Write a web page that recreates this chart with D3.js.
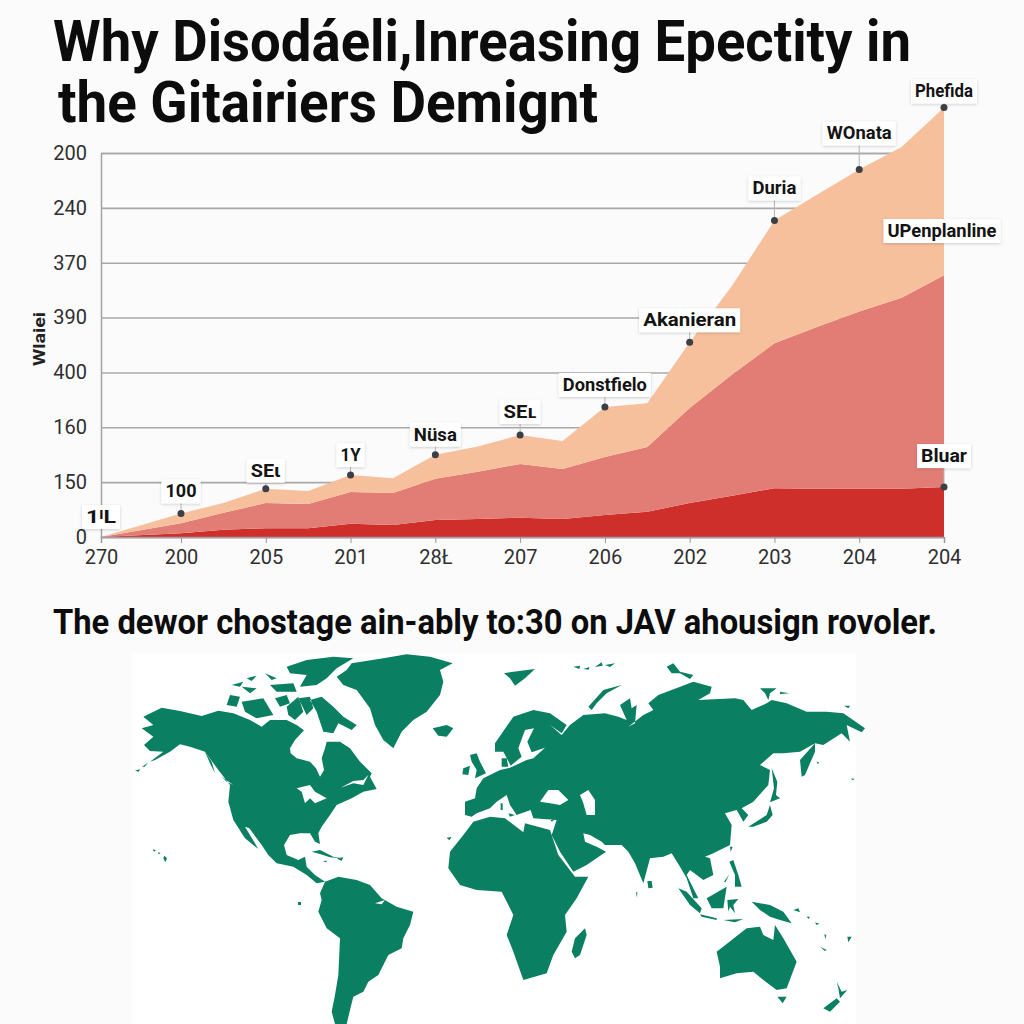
<!DOCTYPE html>
<html>
<head>
<meta charset="utf-8">
<script src="https://cdn.jsdelivr.net/npm/d3@7"></script>
<style>
	html, body { margin: 0; padding: 0; background: #fbfbfb; }
	svg { display: block; }
	text { font-family: Roboto, sans-serif; }
</style>
</head>
<body>
<script>
// x categories and y tick labels, exactly as printed
var xLabels = ["270", "200", "205", "201", "28\u0141", "207", "206", "202", "203", "204", "204"];
var yLabels = ["0", "150", "160", "400", "390", "370", "240", "200"];
var yTicks = [0, 100, 200, 300, 400, 500, 600, 700];

// sample positions along the x axis (index of category, half steps between)
var steps = [0, 1, 1.5, 2, 2.5, 3, 3.5, 4, 4.5, 5, 5.5, 6, 6.5, 7, 7.5, 8, 8.5, 9, 9.5, 10];

// stacked bands, bottom to top
var redBand = [0, 7, 13, 16, 16, 24, 22, 31, 33, 35, 33, 40, 46, 62, 75, 89, 88, 88, 88, 91];
var pinkBand = [0, 18, 31, 46, 44, 58, 58, 75, 86, 98, 91, 106, 118, 173, 221, 264, 295, 323, 348, 386];
var peachBand = [0, 18, 18, 26, 24, 31, 27, 44, 46, 53, 51, 91, 80, 120, 162, 224, 241, 259, 275, 306];

// callouts on the chart
var calloutNames = ["100", "SE\u03b9", "1Y", "N\u00fcsa", "SE\u029f", "Donstfielo", "Akanieran", "Duria", "WOnata", "Phefida", "Bluar"];
var calloutSteps = [1, 2, 3, 4, 5, 6, 7, 8, 9, 10, 10];
var calloutBands = ["peach", "peach", "peach", "peach", "peach", "peach", "peach", "peach", "peach", "peach", "red"];

// map outlines, traced in map units; west and east sheets of the map
var westLand = [
	// north america, hudson bay is a bay, lakes and st lawrence are holes
	[[[40,215],[95,188],[150,198],[215,213],[265,197],[310,205],[360,225],[395,245],[420,225],[470,225],[500,240],[522,256],[495,285],[480,310],[482,325],[500,340],[540,350],[558,370],[570,395],[582,375],[575,340],[585,310],[590,290],[630,290],[660,310],[690,350],[725,385],[720,395],[740,432],[700,440],[665,460],[620,480],[600,510],[575,545],[565,565],[570,597],[555,590],[540,565],[510,565],[480,570],[462,600],[470,630],[505,645],[525,635],[530,665],[555,690],[585,710],[560,715],[530,690],[490,665],[440,655],[415,630],[395,600],[358,550],[345,545],[385,612],[345,580],[310,525],[295,470],[300,420],[265,375],[225,320],[180,305],[150,298],[120,320],[75,345],[60,350],[100,320],[60,318],[42,300],[70,275],[35,250],[70,240],[40,215]],
	 [[500,430],[540,420],[555,440],[590,460],[555,475],[540,460],[525,475],[515,440],[500,430]],
	 [[632,428],[670,408],[700,405],[715,390],[700,420],[670,415],[632,428]],
	 [[225,320],[245,350],[255,385],[240,355],[225,320]],
	 [[275,395],[310,420],[290,410],[275,395]]],
	// south america
	[[[585,710],[625,695],[680,705],[720,720],[755,760],[800,785],[850,800],[840,840],[820,880],[815,910],[775,930],[745,990],[715,1010],[700,1040],[670,1055],[660,1095],[650,1137],[615,1137],[605,1100],[615,1050],[625,990],[630,880],[590,850],[565,800],[575,765],[570,745],[585,710]],
	 [[735,775],[765,765],[755,778],[735,775]]],
	// greenland, iceland
	[[[620,95],[650,75],[665,55],[760,40],[830,28],[900,35],[968,55],[930,75],[940,110],[930,150],[890,200],[850,225],[815,260],[790,310],[760,285],[735,240],[720,190],[680,135],[640,120],[620,95]]],
	[[[908,250],[950,240],[970,250],[950,275],[925,272],[908,250]]],
	// arctic islands
	[[[540,165],[575,155],[610,185],[640,215],[680,240],[665,255],[625,235],[610,265],[580,260],[560,200],[540,165]]],
	[[[335,170],[400,160],[430,210],[380,220],[345,200],[335,170]]],
	[[[300,150],[330,155],[320,185],[290,180],[300,150]]],
	[[[470,65],[530,45],[610,35],[670,40],[620,70],[590,100],[560,120],[510,125],[530,90],[480,85],[470,65]]],
	[[[305,120],[340,110],[330,125],[305,120]]],
	[[[350,100],[380,92],[365,108],[350,100]]],
	[[[335,125],[380,130],[360,145],[335,125]]],
	[[[405,85],[440,100],[425,105],[405,85]]],
	[[[420,120],[490,115],[500,140],[440,140],[420,120]]],
	[[[435,160],[470,150],[480,175],[450,185],[435,160]]],
	[[[470,185],[505,155],[520,200],[495,225],[475,210],[470,185]]],
	[[[505,160],[540,155],[550,190],[530,210],[505,160]]],
	// britain, ireland
	[[[1020,330],[1040,325],[1050,350],[1068,385],[1035,400],[1040,375],[1025,350],[1020,330]]],
	[[[1000,370],[1020,362],[1015,390],[997,388],[1000,370]]],
	// cuba, hispaniola, hawaii, galapagos, small chains
	[[[545,620],[570,615],[610,635],[635,640],[600,637],[570,627],[545,620]]],
	[[[578,648],[592,647],[588,652],[578,648]]],
	[[[620,640],[640,637],[635,648],[620,640]]],
	[[[103,632],[111,640],[106,652],[100,640],[103,632]]],
	[[[504,771],[513,771],[513,780],[504,780],[504,771]]],
	[[[15,377],[30,372],[26,380],[15,377]]],
	[[[36,366],[55,352],[44,365],[36,366]]],
	[[[68,613],[78,616],[72,620],[68,613]]],
	[[[84,622],[92,624],[86,628],[84,622]]],
	[[[950,578],[965,576],[958,586],[950,578]]]
];

var eastLand = [
	// eurasia, with black sea and caspian as holes
	[[[-75,510],[-75,470],[-45,460],[-40,430],[-20,400],[30,375],[60,368],[110,345],[130,340],[165,308],[125,322],[112,290],[132,250],[105,255],[85,310],[95,335],[62,362],[40,320],[15,320],[15,295],[70,215],[130,195],[180,205],[230,240],[215,265],[180,240],[215,270],[240,240],[280,210],[345,205],[385,215],[410,225],[390,180],[420,160],[425,190],[440,180],[435,235],[415,245],[460,210],[490,195],[475,175],[505,150],[610,110],[665,125],[660,145],[625,165],[735,160],[760,165],[785,195],[830,175],[845,165],[890,175],[950,200],[1010,200],[1060,205],[1125,250],[1115,262],[1070,240],[1080,290],[1055,265],[1000,300],[975,295],[930,320],[880,325],[850,325],[810,360],[840,375],[835,420],[790,470],[755,490],[775,510],[760,530],[740,495],[705,505],[725,540],[720,600],[670,625],[645,635],[660,640],[670,690],[640,705],[600,675],[590,690],[625,760],[610,760],[590,700],[570,665],[545,625],[520,635],[480,640],[460,715],[435,655],[415,620],[395,600],[345,600],[335,590],[300,570],[280,565],[285,590],[320,605],[348,620],[290,660],[250,680],[210,620],[185,570],[200,525],[130,520],[122,495],[80,510],[60,480],[50,450],[20,470],[0,490],[-40,505],[-55,515],[-75,510]],
	 [[150,470],[175,435],[205,435],[235,465],[210,480],[180,475],[150,470]],
	 [[270,450],[295,435],[315,465],[315,510],[290,510],[280,475],[270,450]]],
	// africa
	[[[0,515],[45,520],[100,562],[105,535],[180,555],[185,570],[205,630],[255,695],[295,695],[260,760],[225,810],[230,860],[190,930],[170,985],[100,1005],[70,920],[50,870],[70,810],[35,740],[-40,735],[-90,720],[-125,670],[-120,620],[-80,570],[-50,530],[0,515]]],
	// arctic
	[[[295,185],[340,135],[395,120],[350,145],[320,175],[305,195],[295,185]]],
	[[[42,85],[70,80],[135,72],[105,100],[75,122],[60,100],[42,85]]],
	[[[250,65],[270,62],[268,72],[250,65]]],
	[[[280,72],[298,66],[296,74],[280,72]]],
	[[[315,66],[335,52],[338,62],[315,66]]],
	[[[345,60],[375,55],[360,66],[345,60]]],
	[[[530,65],[550,55],[570,80],[610,90],[600,102],[570,85],[545,85],[530,65]]],
	[[[810,130],[860,130],[840,145],[835,165],[825,145],[810,130]]],
	[[[870,140],[898,145],[870,147],[870,140]]],
	[[[1062,182],[1080,182],[1075,190],[1062,182]]],
	// denmark, mediterranean islands
	[[[35,340],[50,340],[55,365],[35,365],[35,340]]],
	[[[32,475],[38,475],[38,495],[32,495],[32,475]]],
	[[[55,505],[75,510],[60,515],[55,505]]],
	[[[180,522],[192,525],[185,530],[180,522]]],
	// far east
	[[[930,345],[975,295],[975,320],[945,390],[935,395],[930,345]]],
	[[[845,370],[862,410],[858,450],[870,460],[840,472],[852,430],[845,370]]],
	[[[775,545],[830,510],[840,480],[848,510],[830,530],[790,545],[775,545]]],
	[[[720,605],[728,605],[722,620],[720,605]]],
	[[[718,650],[730,645],[745,690],[755,725],[735,725],[735,690],[718,650]]],
	[[[702,710],[718,688],[706,712],[702,710]]],
	// indonesia and new guinea
	[[[650,760],[710,725],[700,790],[665,790],[650,760]]],
	[[[565,730],[590,740],[635,790],[630,805],[600,780],[565,730]]],
	[[[630,808],[680,820],[680,825],[635,815],[630,808]]],
	[[[712,765],[745,762],[730,780],[735,805],[720,785],[715,800],[712,765]]],
	[[[785,770],[840,780],[880,800],[905,835],[870,825],[840,815],[810,795],[785,770]]],
	[[[700,825],[760,822],[735,832],[700,825]]],
	// sri lanka, madagascar
	[[[472,708],[485,708],[488,728],[475,730],[472,708]]],
	[[[285,850],[290,870],[270,930],[255,940],[245,920],[255,880],[285,850]]],
	// australia, tasmania, new zealand
	[[[680,920],[725,885],[770,850],[810,845],[820,870],[850,885],[855,840],[880,880],[920,950],[890,1030],[860,1035],[820,1005],[790,980],[740,985],[690,1000],[690,965],[680,920]]],
	[[[862,1055],[890,1055],[878,1075],[862,1055]]],
	[[[1000,1090],[1040,1060],[1050,1070],[1020,1100],[1000,1090]]],
	[[[1040,1010],[1055,1040],[1072,1035],[1050,1060],[1045,1030],[1040,1010]]],
	[[[990,905],[1010,915],[1005,918],[990,905]]],
	[[[1072,875],[1085,875],[1075,892],[1072,875]]],
	// pacific specks
	[[[910,795],[925,790],[930,802],[910,795]]],
	[[[950,815],[960,815],[956,822],[950,815]]],
	[[[975,832],[988,836],[980,840],[975,832]]],
	[[[1083,400],[1094,402],[1088,406],[1083,400]]],
	[[[980,350],[987,352],[984,358],[980,350]]],
	[[[1003,868],[1009,870],[1006,882],[1003,868]]],
	[[[438,742],[442,742],[441,758],[438,742]]]
];

window.onload = function(){
	var w = 1024, h = 1024;
	var left = 101, right = 944, top = 153, bottom = 537;

	var svg = d3.select("body")
		.append("svg")
		.attr("width", w)
		.attr("height", h)
		.attr("class", "container");

	var x = d3.scaleLinear().domain([0, 1, 10]).range([left, 181, right]);
	var y = d3.scaleLinear().domain([0, 700]).range([bottom, top]);

	// gridlines and y labels
	var yAxis = svg.append("g")
		.attr("class", "yAxis")
		.attr("transform", "translate(" + left + ",0)")
		.call(d3.axisLeft(y)
			.tickValues(yTicks)
			.tickSize(-(right - left))
			.tickPadding(14)
			.tickFormat(function(d, i){ return yLabels[i]; }));
	yAxis.select(".domain").attr("stroke", "#a2a2a2").attr("stroke-width", 1.5);
	yAxis.selectAll(".tick line").attr("stroke", "#a8a8a8").attr("stroke-width", 1.6);
	yAxis.selectAll(".tick text")
		.style("font-size", "20px")
		.attr("fill", "#2f2f2f");

	// stacked areas
	var rows = steps.map(function(s, i){
		return { step: s, red: redBand[i], pink: pinkBand[i], peach: peachBand[i] };
	});
	var stacked = d3.stack().keys(["red", "pink", "peach"])(rows);
	var colors = { red: "#cf2f2b", pink: "#e27d76", peach: "#f6c09c" };
	var area = d3.area()
		.x(function(d){ return x(d.data.step); })
		.y0(function(d){ return y(d[0]); })
		.y1(function(d){ return y(d[1]); });

	svg.selectAll(".band")
		.data(stacked)
		.enter()
		.append("path")
		.attr("class", "band")
		.attr("d", area)
		.style("fill", function(d){ return colors[d.key]; });

	// x axis over the areas
	var xAxis = svg.append("g")
		.attr("class", "xAxis")
		.attr("transform", "translate(0," + bottom + ")")
		.call(d3.axisBottom(x)
			.tickValues(d3.range(xLabels.length))
			.tickSize(6)
			.tickPadding(7)
			.tickFormat(function(d, i){ return xLabels[i]; }));
	xAxis.select(".domain").attr("stroke", "#a79aa6").attr("stroke-width", 1.5);
	xAxis.selectAll(".tick line").attr("stroke", "#999");
	xAxis.selectAll(".tick text")
		.style("font-size", "20px")
		.attr("fill", "#2f2f2f");

	// soft shadow for the label boxes
	var shadow = svg.append("defs").append("filter")
		.attr("id", "boxShadow")
		.attr("x", "-20%").attr("y", "-30%")
		.attr("width", "140%").attr("height", "170%");
	shadow.append("feDropShadow")
		.attr("dx", 0).attr("dy", 1)
		.attr("stdDeviation", 1.5)
		.attr("flood-color", "#000")
		.attr("flood-opacity", 0.18);

	function addLabel(name, cx, cy, width){
		var g = svg.append("g").attr("class", "callout");
		g.append("rect")
			.attr("x", cx - width / 2 - 4)
			.attr("y", cy - 12)
			.attr("width", width + 8)
			.attr("height", 24)
			.style("fill", "#fff")
			.attr("filter", "url(#boxShadow)");
		g.append("text")
			.attr("x", cx - width / 2)
			.attr("y", cy + 6)
			.attr("textLength", width)
			.attr("lengthAdjust", "spacingAndGlyphs")
			.style("font-size", "18px")
			.style("font-weight", 700)
			.style("fill", "#141414")
			.text(name);
	}

	// how far each callout box sits above its dot, and how wide its text is printed
	var calloutLift = [22, 18, 20, 20, 23, 22, 22, 32, 36, 16, 31];
	var calloutWidth = [31, 30, 20, 43, 33, 84, 93, 44, 65, 58, 46];

	calloutNames.forEach(function(name, i){
		var s = steps.indexOf(calloutSteps[i]);
		var layer = calloutBands[i] === "red" ? stacked[0] : stacked[2];
		var px = x(calloutSteps[i]);
		var py = y(layer[s][1]);
		svg.append("line")
			.attr("x1", px).attr("x2", px)
			.attr("y1", py).attr("y2", py - calloutLift[i])
			.attr("stroke", "#b5b5b5");
		addLabel(name, px, py - calloutLift[i], calloutWidth[i]);
		svg.append("circle")
			.attr("cx", px)
			.attr("cy", py)
			.attr("r", 3.5)
			.style("fill", "#3b3f46");
	});
	addLabel("1\u1d35L", x(0), 517, 30);
	addLabel("UPenplanline", 942, 231, 109);

	// axis title
	svg.append("text")
		.attr("transform", "translate(45,366) rotate(-90)")
		.attr("textLength", 54)
		.attr("lengthAdjust", "spacingAndGlyphs")
		.style("font-size", "17px")
		.style("font-weight", 700)
		.style("fill", "#222")
		.text("Wlaiei");

	// headings, stretched to the printed widths
	function heading(str, hx, hy, size, len){
		svg.append("text")
			.attr("x", hx)
			.attr("y", hy)
			.attr("textLength", len)
			.attr("lengthAdjust", "spacingAndGlyphs")
			.style("font-size", size + "px")
			.style("font-weight", 700)
			.style("fill", "#0c0c0c")
			.text(str);
	}
	heading("Why Disod\u00e1eli,Inreasing Epectity in", 53, 61, 57, 858);
	heading("the Gitairiers Demignt", 58, 122, 57, 540);
	heading("The dewor chostage ain-ably to:30 on JAV ahousign rovoler.", 53, 634, 35, 884);

	// world map
	svg.append("rect")
		.attr("class", "mapBack")
		.attr("x", 133).attr("y", 653)
		.attr("width", 723).attr("height", 371)
		.style("fill", "#ffffff");

	function drawLand(polys, tx){
		var projection = d3.geoIdentity().scale(1 / 3).translate([tx, 645]);
		var path = d3.geoPath(projection);
		svg.append("path")
			.datum({ type: "MultiPolygon", coordinates: polys })
			.attr("class", "land")
			.attr("d", path)
			.style("fill", "#0b7f62")
			.style("fill-rule", "evenodd");
	}
	drawLand(westLand, 130);
	drawLand(eastLand, 490);
};
</script>
</body>
</html>
